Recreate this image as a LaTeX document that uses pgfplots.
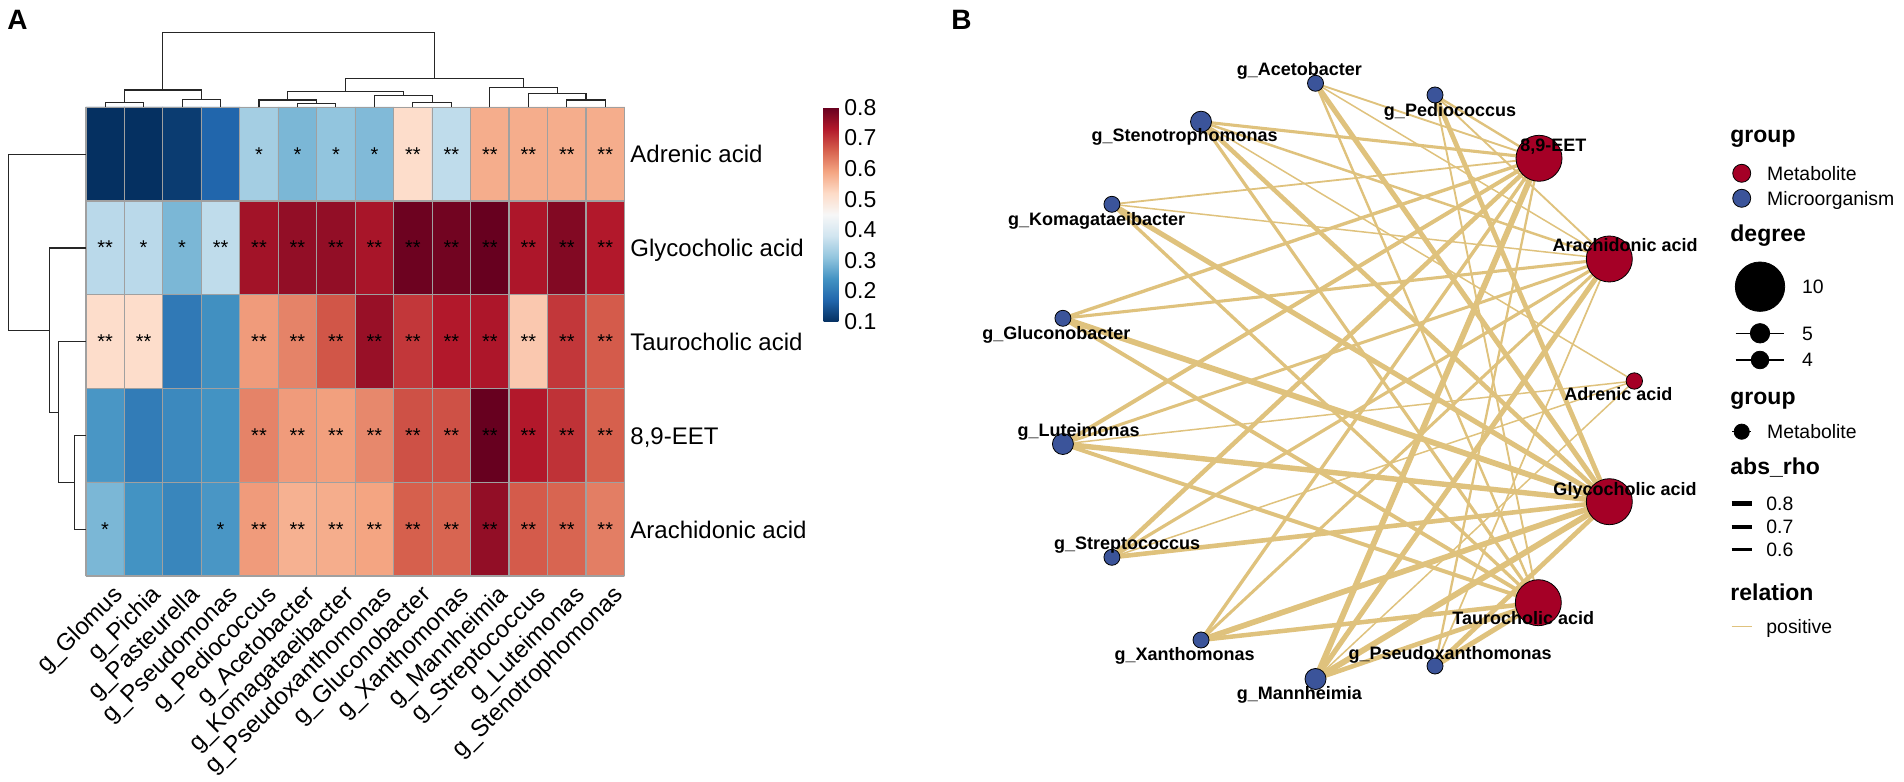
\documentclass[border=0pt]{standalone}
\usepackage{fontspec}
\setmainfont{Liberation Sans}
\usepackage{pgfplots}
\usepackage{pgfplotstable}
\pgfplotsset{compat=1.18}
\definecolor{metred}{HTML}{A50026}
\definecolor{micblue}{HTML}{3B549A}
\definecolor{edgecol}{HTML}{DFC27D}
\definecolor{hmgrid}{HTML}{A0A0A0}

% heatmap values: column i (0..13), row j (0..4)
\pgfplotstableread{
i j v
0 0 0.10
1 0 0.10
2 0 0.115
3 0 0.17
4 0 0.33
5 0 0.29
6 0 0.31
7 0 0.295
8 0 0.515
9 0 0.36
10 0 0.58
11 0 0.58
12 0 0.58
13 0 0.58
0 1 0.355
1 1 0.355
2 1 0.29
3 1 0.36
4 1 0.745
5 1 0.76
6 1 0.76
7 1 0.74
8 1 0.795
9 1 0.79
10 1 0.80
11 1 0.735
12 1 0.775
13 1 0.73
0 2 0.515
1 2 0.515
2 2 0.20
3 2 0.235
4 2 0.60
5 2 0.625
6 2 0.67
7 2 0.755
8 2 0.70
9 2 0.73
10 2 0.735
11 2 0.545
12 2 0.70
13 2 0.665
0 3 0.245
1 3 0.205
2 3 0.225
3 3 0.24
4 3 0.625
5 3 0.60
6 3 0.595
7 3 0.62
8 3 0.675
9 3 0.675
10 3 0.80
11 3 0.73
12 3 0.705
13 3 0.66
0 4 0.29
1 4 0.24
2 4 0.22
3 4 0.245
4 4 0.60
5 4 0.575
6 4 0.58
7 4 0.59
8 4 0.66
9 4 0.655
10 4 0.76
11 4 0.665
12 4 0.655
13 4 0.63
}\heat

\pgfplotstableread{
i j s
4 0 *
5 0 *
6 0 *
7 0 *
8 0 **
9 0 **
10 0 **
11 0 **
12 0 **
13 0 **
0 1 **
1 1 *
2 1 *
3 1 **
4 1 **
5 1 **
6 1 **
7 1 **
8 1 **
9 1 **
10 1 **
11 1 **
12 1 **
13 1 **
0 2 **
1 2 **
4 2 **
5 2 **
6 2 **
7 2 **
8 2 **
9 2 **
10 2 **
11 2 **
12 2 **
13 2 **
4 3 **
5 3 **
6 3 **
7 3 **
8 3 **
9 3 **
10 3 **
11 3 **
12 3 **
13 3 **
0 4 *
3 4 *
4 4 **
5 4 **
6 4 **
7 4 **
8 4 **
9 4 **
10 4 **
11 4 **
12 4 **
13 4 **
}\stars

\pgfplotsset{
  netedge/.style={draw=edgecol, /utils/exec={\pgfmathsetmacro\lw{0.75+10*(#1-0.58)}}, line width=\lw pt},
  dendro/.style={draw=black!85, line width=0.55pt},
}
\tikzset{
  rl/.style={anchor=base west, inner sep=0pt, font=\fontsize{12}{14}\selectfont},
  cl/.style={anchor=north east, rotate=45, inner sep=0pt, font=\fontsize{12}{14}\selectfont},
  nl/.style={anchor=base, inner sep=0pt, font=\bfseries\fontsize{9}{11}\selectfont},
  lt/.style={anchor=base west, inner sep=0pt, font=\bfseries\fontsize{11.5}{13}\selectfont},
  li/.style={anchor=base west, inner sep=0pt, font=\fontsize{9.7}{11}\selectfont},
}

\begin{document}
\begin{tikzpicture}
\begin{axis}[name=main, set layers,
  width=952pt, height=390.5pt, scale only axis,
  xmin=0, xmax=1904, ymin=0, ymax=781, y dir=reverse,
  hide axis, clip=false,
  colormap={rdbu}{rgb255=(5,48,97) rgb255=(33,102,172) rgb255=(67,147,195) rgb255=(146,197,222) rgb255=(209,229,240) rgb255=(247,247,247) rgb255=(253,219,199) rgb255=(244,165,130) rgb255=(214,96,77) rgb255=(178,24,43) rgb255=(103,0,31)},
  point meta min=0.1, point meta max=0.8,
  colorbar,
  colorbar style={at={(0.43262,0.86261)}, anchor=north west,
    width=7.3pt, height=107.2pt, scale only axis,
    ytick={0.1,0.2,0.3,0.4,0.5,0.6,0.7,0.8},
    yticklabel pos=right, major tick length=0pt,
    axis line style={draw=none},
    yticklabel style={font=\fontsize{11.5}{13}\selectfont, anchor=west, inner sep=0pt, xshift=2.85pt,
      /pgf/number format/.cd, fixed, fixed zerofill, precision=1, assume math mode=true}},
]

% ---------- Panel A: heatmap ----------
\addplot[matrix plot*, mesh/cols=14, point meta=explicit]
  table[x expr={85.9+38.47*(\thisrow{i}+0.5)}, y expr={107.3+93.74*(\thisrow{j}+0.5)}, meta=v] {\heat};

\addplot[draw=hmgrid, line width=0.6pt, unbounded coords=jump] table {
x y
85.9 107.3
85.9 576
nan nan
124.37 107.3
124.37 576
nan nan
162.84 107.3
162.84 576
nan nan
201.31 107.3
201.31 576
nan nan
239.78 107.3
239.78 576
nan nan
278.25 107.3
278.25 576
nan nan
316.72 107.3
316.72 576
nan nan
355.19 107.3
355.19 576
nan nan
393.66 107.3
393.66 576
nan nan
432.13 107.3
432.13 576
nan nan
470.6 107.3
470.6 576
nan nan
509.07 107.3
509.07 576
nan nan
547.54 107.3
547.54 576
nan nan
586.01 107.3
586.01 576
nan nan
624.48 107.3
624.48 576
nan nan
85.9 107.3
624.48 107.3
nan nan
85.9 201.04
624.48 201.04
nan nan
85.9 294.78
624.48 294.78
nan nan
85.9 388.52
624.48 388.52
nan nan
85.9 482.26
624.48 482.26
nan nan
85.9 576
624.48 576
};

\addplot[draw=none, mark=none, nodes near coords, point meta=explicit symbolic,
  every node near coord/.append style={anchor=center, inner sep=0pt, font=\fontsize{10}{12}\selectfont}]
  table[x expr={85.9+38.47*(\thisrow{i}+0.5)}, y expr={107.3+93.74*(\thisrow{j}+0.5)}, meta=s] {\stars};

% column dendrogram
\addplot[dendro] coordinates {(105.1,107.3) (105.1,102.7) (143.6,102.7) (143.6,107.3)};
\addplot[dendro] coordinates {(182.1,107.3) (182.1,99.3) (220.5,99.3) (220.5,107.3)};
\addplot[dendro] coordinates {(124.35,102.7) (124.35,90) (201.3,90) (201.3,99.3)};
\addplot[dendro] coordinates {(297.5,107.3) (297.5,103.3) (335.9,103.3) (335.9,107.3)};
\addplot[dendro] coordinates {(259.0,107.3) (259.0,100) (316.7,100) (316.7,103.3)};
\addplot[dendro] coordinates {(412.9,107.3) (412.9,102.7) (451.4,102.7) (451.4,107.3)};
\addplot[dendro] coordinates {(374.4,107.3) (374.4,95.3) (432.15,95.3) (432.15,102.7)};
\addplot[dendro] coordinates {(287.85,100) (287.85,91.7) (403.3,91.7) (403.3,95.3)};
\addplot[dendro] coordinates {(566.8,107.3) (566.8,100) (605.2,100) (605.2,107.3)};
\addplot[dendro] coordinates {(528.3,107.3) (528.3,93.3) (586,93.3) (586,100)};
\addplot[dendro] coordinates {(489.8,107.3) (489.8,87.3) (557.15,87.3) (557.15,93.3)};
\addplot[dendro] coordinates {(345.6,91.7) (345.6,78.7) (523.5,78.7) (523.5,87.3)};
\addplot[dendro] coordinates {(162.8,90) (162.8,32.3) (434.5,32.3) (434.5,78.7)};
% row dendrogram
\addplot[dendro] coordinates {(85.9,435.6) (74.8,435.6) (74.8,529.4) (85.9,529.4)};
\addplot[dendro] coordinates {(85.9,341.8) (58.8,341.8) (58.8,482.5) (74.8,482.5)};
\addplot[dendro] coordinates {(85.9,248) (49.6,248) (49.6,412.15) (58.8,412.15)};
\addplot[dendro] coordinates {(85.9,154.2) (8.3,154.2) (8.3,330.1) (49.6,330.1)};

% row labels
\node[rl] at (axis cs:630,163) {Adrenic acid};
\node[rl] at (axis cs:630,256.8) {Glycocholic acid};
\node[rl] at (axis cs:630,350.6) {Taurocholic acid};
\node[rl] at (axis cs:630,444.4) {8,9-EET};
\node[rl] at (axis cs:630,538.2) {Arachidonic acid};
% column labels
\node[cl] at (axis cs:111.6,583.4) {g\_Glomus};
\node[cl] at (axis cs:150.1,583.4) {g\_Pichia};
\node[cl] at (axis cs:188.6,583.4) {g\_Pasteurella};
\node[cl] at (axis cs:227.0,583.4) {g\_Pseudomonas};
\node[cl] at (axis cs:265.5,583.4) {g\_Pediococcus};
\node[cl] at (axis cs:304.0,583.4) {g\_Acetobacter};
\node[cl] at (axis cs:342.4,583.4) {g\_Komagataeibacter};
\node[cl] at (axis cs:380.9,583.4) {g\_Pseudoxanthomonas};
\node[cl] at (axis cs:419.4,583.4) {g\_Gluconobacter};
\node[cl] at (axis cs:457.9,583.4) {g\_Xanthomonas};
\node[cl] at (axis cs:496.3,583.4) {g\_Mannheimia};
\node[cl] at (axis cs:534.8,583.4) {g\_Streptococcus};
\node[cl] at (axis cs:573.3,583.4) {g\_Luteimonas};
\node[cl] at (axis cs:611.7,583.4) {g\_Stenotrophomonas};

\node[anchor=base west, inner sep=0pt, font=\bfseries\fontsize{14}{16}\selectfont] at (axis cs:7,30) {A};
\node[anchor=base west, inner sep=0pt, font=\bfseries\fontsize{14}{16}\selectfont] at (axis cs:951,30) {B};

% ---------- Panel B: network ----------
% Pediococcus
\addplot[netedge=0.625] coordinates {(1435,95) (1539,158.3)};
\addplot[netedge=0.60] coordinates {(1435,95) (1609.3,259)};
\addplot[netedge=0.745] coordinates {(1435,95) (1609.3,501.7)};
\addplot[netedge=0.60] coordinates {(1435,95) (1538.3,602.7)};
% Acetobacter
\addplot[netedge=0.60] coordinates {(1315.5,83.3) (1539,158.3)};
\addplot[netedge=0.58] coordinates {(1315.5,83.3) (1609.3,259)};
\addplot[netedge=0.76] coordinates {(1315.5,83.3) (1609.3,501.7)};
\addplot[netedge=0.625] coordinates {(1315.5,83.3) (1538.3,602.7)};
% Komagataeibacter
\addplot[netedge=0.595] coordinates {(1111.9,204.3) (1539,158.3)};
\addplot[netedge=0.58] coordinates {(1111.9,204.3) (1609.3,259)};
\addplot[netedge=0.76] coordinates {(1111.9,204.3) (1609.3,501.7)};
\addplot[netedge=0.67] coordinates {(1111.9,204.3) (1538.3,602.7)};
% Pseudoxanthomonas
\addplot[netedge=0.62] coordinates {(1435,666) (1539,158.3)};
\addplot[netedge=0.59] coordinates {(1435,666) (1609.3,259)};
\addplot[netedge=0.74] coordinates {(1435,666) (1609.3,501.7)};
\addplot[netedge=0.755] coordinates {(1435,666) (1538.3,602.7)};
% Gluconobacter
\addplot[netedge=0.675] coordinates {(1062.9,318.3) (1539,158.3)};
\addplot[netedge=0.66] coordinates {(1062.9,318.3) (1609.3,259)};
\addplot[netedge=0.795] coordinates {(1062.9,318.3) (1609.3,501.7)};
\addplot[netedge=0.70] coordinates {(1062.9,318.3) (1538.3,602.7)};
% Xanthomonas
\addplot[netedge=0.675] coordinates {(1201,640) (1539,158.3)};
\addplot[netedge=0.655] coordinates {(1201,640) (1609.3,259)};
\addplot[netedge=0.79] coordinates {(1201,640) (1609.3,501.7)};
\addplot[netedge=0.73] coordinates {(1201,640) (1538.3,602.7)};
% Mannheimia
\addplot[netedge=0.80] coordinates {(1315.5,679) (1539,158.3)};
\addplot[netedge=0.76] coordinates {(1315.5,679) (1609.3,259)};
\addplot[netedge=0.80] coordinates {(1315.5,679) (1609.3,501.7)};
\addplot[netedge=0.735] coordinates {(1315.5,679) (1538.3,602.7)};
\addplot[netedge=0.58] coordinates {(1315.5,679) (1634.3,381)};
% Streptococcus
\addplot[netedge=0.73] coordinates {(1111.9,557.3) (1539,158.3)};
\addplot[netedge=0.665] coordinates {(1111.9,557.3) (1609.3,259)};
\addplot[netedge=0.735] coordinates {(1111.9,557.3) (1609.3,501.7)};
\addplot[netedge=0.58] coordinates {(1111.9,557.3) (1634.3,381)};
% Luteimonas
\addplot[netedge=0.705] coordinates {(1062.9,444) (1539,158.3)};
\addplot[netedge=0.655] coordinates {(1062.9,444) (1609.3,259)};
\addplot[netedge=0.775] coordinates {(1062.9,444) (1609.3,501.7)};
\addplot[netedge=0.70] coordinates {(1062.9,444) (1538.3,602.7)};
\addplot[netedge=0.58] coordinates {(1062.9,444) (1634.3,381)};
% Stenotrophomonas
\addplot[netedge=0.66] coordinates {(1201,121.7) (1539,158.3)};
\addplot[netedge=0.63] coordinates {(1201,121.7) (1609.3,259)};
\addplot[netedge=0.73] coordinates {(1201,121.7) (1609.3,501.7)};
\addplot[netedge=0.665] coordinates {(1201,121.7) (1538.3,602.7)};
\addplot[netedge=0.58] coordinates {(1201,121.7) (1634.3,381)};

% nodes
\addplot[only marks, mark=*, mark size=11.5pt, mark options={draw=none, fill=metred}]
  coordinates {(1539,158.3) (1609.3,259) (1609.3,501.7) (1538.3,602.7)};
\addplot[only marks, mark=*, mark size=4.1pt, mark options={draw=none, fill=metred}]
  coordinates {(1634.3,381)};
\addplot[only marks, mark=*, mark size=5.25pt, mark options={draw=none, fill=micblue}]
  coordinates {(1201,121.7) (1062.9,444) (1315.5,679)};
\addplot[only marks, mark=*, mark size=4pt, mark options={draw=none, fill=micblue}]
  coordinates {(1315.5,83.3) (1435,95) (1111.9,204.3) (1062.9,318.3) (1111.9,557.3) (1201,640) (1435,666)};

\begin{pgfonlayer}{axis foreground}
\node[nl] at (axis cs:1299.4,76) {g\_Acetobacter};
\node[nl] at (axis cs:1450,116.7) {g\_Pediococcus};
\node[nl] at (axis cs:1184.6,142) {g\_Stenotrophomonas};
\node[nl] at (axis cs:1096.6,226) {g\_Komagataeibacter};
\node[nl] at (axis cs:1056.4,339.3) {g\_Gluconobacter};
\node[nl] at (axis cs:1078.6,436.7) {g\_Luteimonas};
\node[nl] at (axis cs:1127.2,550) {g\_Streptococcus};
\node[nl] at (axis cs:1184.6,661) {g\_Xanthomonas};
\node[nl] at (axis cs:1299.4,699.3) {g\_Mannheimia};
\node[nl] at (axis cs:1450,659.3) {g\_Pseudoxanthomonas};
\node[nl] at (axis cs:1553.3,151.5) {8,9-EET};
\node[nl] at (axis cs:1625,251.7) {Arachidonic acid};
\node[nl] at (axis cs:1618.3,401) {Adrenic acid};
\node[nl] at (axis cs:1625,495.3) {Glycocholic acid};
\node[nl] at (axis cs:1523.3,624.3) {Taurocholic acid};
\end{pgfonlayer}

% ---------- legend of panel B ----------
\addplot[only marks, mark=*, mark size=4.5pt, mark options={draw=none, fill=metred}] coordinates {(1741.7,173.3)};
\addplot[only marks, mark=*, mark size=4.5pt, mark options={draw=none, fill=micblue}] coordinates {(1741.7,198.3)};
\addplot[only marks, mark=*, mark size=12.35pt, mark options={draw=none, fill=black}] coordinates {(1760,286.7)};
\addplot[black, line width=0.65pt] coordinates {(1735.7,333.3) (1784.3,333.3)};
\addplot[only marks, mark=*, mark size=4.85pt, mark options={draw=none, fill=black}] coordinates {(1760,333.3)};
\addplot[black, line width=0.65pt] coordinates {(1735.7,360) (1784.3,360)};
\addplot[only marks, mark=*, mark size=4.4pt, mark options={draw=none, fill=black}] coordinates {(1760,360)};
\addplot[black, line width=0.65pt] coordinates {(1732,431.7) (1751.4,431.7)};
\addplot[only marks, mark=*, mark size=3.8pt, mark options={draw=none, fill=black}] coordinates {(1741.7,431.7)};
\addplot[black, line width=2.5pt] coordinates {(1731.7,503.3) (1751.7,503.3)};
\addplot[black, line width=2pt] coordinates {(1731.7,526.7) (1751.7,526.7)};
\addplot[black, line width=1.5pt] coordinates {(1731.7,550) (1751.7,550)};
\addplot[edgecol, line width=0.75pt] coordinates {(1731.7,626.6) (1751.7,626.6)};

\node[lt] at (axis cs:1730,143) {group};
\node[li] at (axis cs:1766.7,180.3) {Metabolite};
\node[li] at (axis cs:1766.7,205.3) {Microorganism};
\node[lt] at (axis cs:1730,241.7) {degree};
\node[li] at (axis cs:1801.7,293.7) {10};
\node[li] at (axis cs:1801.7,340.3) {5};
\node[li] at (axis cs:1801.7,367) {4};
\node[lt] at (axis cs:1730,405) {group};
\node[li] at (axis cs:1766.7,438.7) {Metabolite};
\node[lt] at (axis cs:1730,475) {abs\_rho};
\node[li] at (axis cs:1766,510.3) {0.8};
\node[li] at (axis cs:1766,533.7) {0.7};
\node[li] at (axis cs:1766,557) {0.6};
\node[lt] at (axis cs:1730,601) {relation};
\node[li] at (axis cs:1766,633.6) {positive};

\end{axis}
\pgfresetboundingbox
\path[use as bounding box] (main.south west) rectangle (main.north east);
\end{tikzpicture}
\end{document}
